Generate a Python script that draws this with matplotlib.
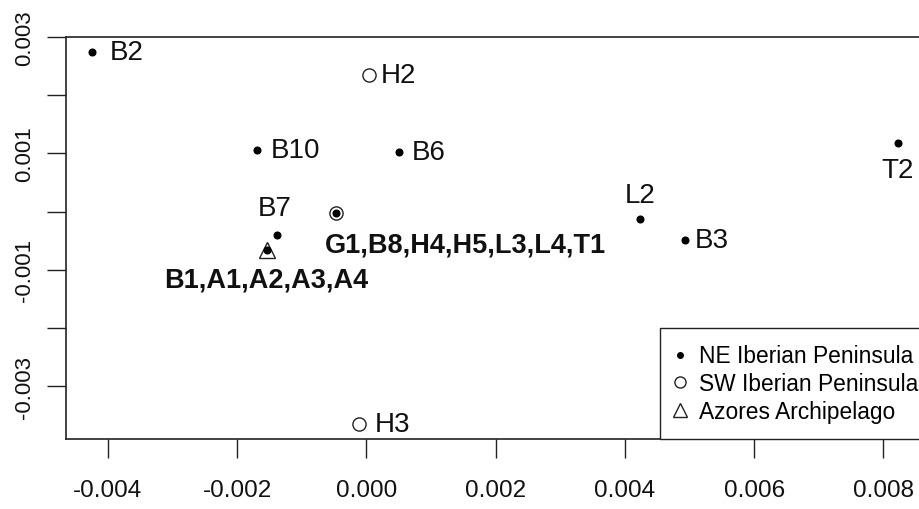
import matplotlib.pyplot as plt
from matplotlib.lines import Line2D

plt.rcParams['font.family'] = ['Liberation Sans', 'DejaVu Sans']

# NE Iberian Peninsula (filled dots)
ne_x = [-0.00424, -0.00169, 0.00051, 0.00822, 0.00424, 0.00493, -0.00139, -0.00047, -0.00154]
ne_y = [0.00274, 0.00105, 0.00103, 0.00117, -0.000125, -0.00049, -0.000395, -0.00002, -0.000665]
# SW Iberian Peninsula (open circles)
sw_x = [0.00004, -0.00012, -0.00047]
sw_y = [0.00235, -0.00366, -0.00002]
# Azores Archipelago (triangles)
az_x = [-0.00154]
az_y = [-0.000665]

# labels and the point each one belongs to
lab_text = ["B2", "H2", "B10", "B6", "T2", "L2", "B3", "B7",
            "G1,B8,H4,H5,L3,L4,T1", "B1,A1,A2,A3,A4", "H3"]
lab_x = [-0.00424, 0.00004, -0.00169, 0.00051, 0.00822, 0.00424, 0.00493, -0.00139, -0.00047, -0.00154, -0.00012]
lab_y = [0.00274, 0.00235, 0.00105, 0.00103, 0.00117, -0.000125, -0.00049, -0.000395, -0.00002, -0.000665, -0.00366]

# offset (px) and alignment per label
lab_style = [((17, 0), 'left'), ((12, 0), 'left'), ((13, 0), 'left'), ((12, 0), 'left'),
             ((0, -27), 'center'), ((0, 24), 'center'), ((10, 0), 'left'), ((-2, 27), 'center'),
             ((-11, -32), 'left'), ((-1, -29), 'center'), ((16, 0), 'left')]

xticks = [-0.004, -0.002, 0.000, 0.002, 0.004, 0.006, 0.008]
yticks = [0.003, 0.002, 0.001, 0.000, -0.001, -0.002, -0.003]
ytick_labels = ["0.003", "", "0.001", "", "-0.001", "", "-0.003"]

fig = plt.figure(figsize=(9.2, 5.1), dpi=100)
ax = fig.add_axes([66/920, 70/510, 882/920, 402/510])
ax.set_xlim(-0.00465, 0.0090)
ax.set_ylim(-0.00391, 0.003)

ink = '#222222'
ax.plot(sw_x, sw_y, 'o', ms=9.5, mfc='white', mec=ink, mew=1.0, zorder=3)
ax.plot(az_x, az_y, '^', ms=12, mfc='white', mec=ink, mew=1.0, zorder=3)
ax.plot(ne_x, ne_y, 'o', ms=4.8, color='black', zorder=4)

for t, x, y, (off, ha) in zip(lab_text, lab_x, lab_y, lab_style):
    bold = ',' in t
    ax.annotate(t, (x, y), xytext=(off[0] * 0.72, off[1] * 0.72), textcoords='offset points',
                ha=ha, va='center', fontsize=19.5 if bold else 20, color='#111111',
                fontweight='bold' if bold else 'normal')

ax.set_xticks(xticks)
ax.set_xticklabels(["%.3f" % v for v in xticks], fontsize=17.5)
ax.set_yticks(yticks)
ax.set_yticklabels(ytick_labels, rotation=90, va='center', fontsize=16)
ax.tick_params(direction='out', length=13.5, width=1.0, color=ink, labelcolor='#111111')
ax.tick_params(axis='x', pad=15)
ax.tick_params(axis='y', pad=9)
for s in ax.spines.values():
    s.set_color(ink)
    s.set_linewidth(1.2)

handles = [Line2D([], [], ls='none', marker='o', ms=4, color='black'),
           Line2D([], [], ls='none', marker='o', ms=8, mfc='white', mec=ink, mew=1.0),
           Line2D([], [], ls='none', marker='^', ms=10, mfc='white', mec=ink, mew=1.0)]
leg = ax.legend(handles, ["NE Iberian Peninsula", "SW Iberian Peninsula", "Azores Archipelago"],
                loc='lower left', bbox_to_anchor=(594/882, 0), borderaxespad=0, fontsize=16.4,
                fancybox=False, edgecolor=ink, framealpha=1, handlelength=0.3, handletextpad=0.7,
                labelspacing=0.2, borderpad=0.72)
leg.get_frame().set_linewidth(1.0)

fig.savefig('out.png', dpi=100)
